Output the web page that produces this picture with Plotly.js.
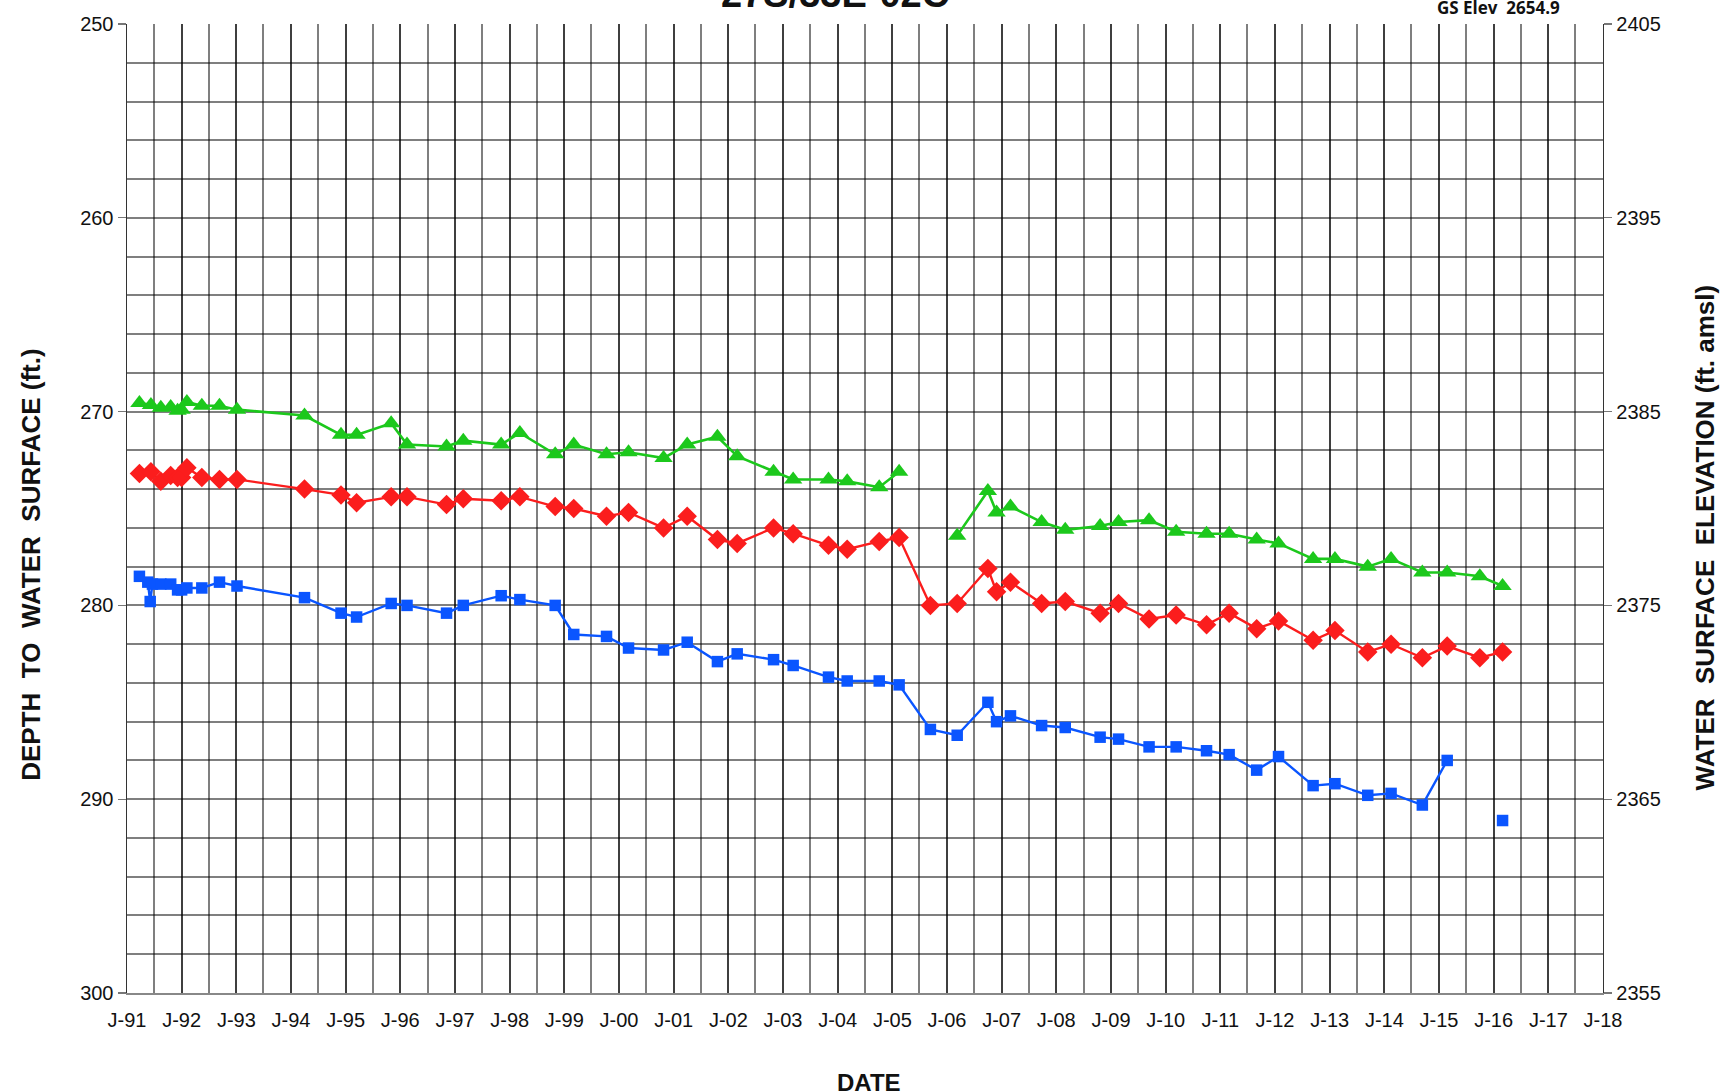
<!DOCTYPE html>
<html>
<head>
<meta charset="utf-8">
<script src="https://cdn.plot.ly/plotly-3.0.1.min.js"></script>
<style>
html,body{margin:0;padding:0;background:#fff;}
#chart{width:1722px;height:1091px;}
</style>
</head>
<body>
<div id="chart"></div>
<script>
// ---- Data (depth to water surface, ft) ----
const greenDates = ['1991-03-25','1991-06-10','1991-08-15','1991-10-20','1991-12-05','1992-01-01','1992-02-05','1992-05-15','1992-09-10','1993-01-05',
  '1994-04-01','1994-12-01','1995-03-15','1995-11-01','1996-02-15','1996-11-05','1997-02-25','1997-11-05','1998-03-10','1998-11-01',
  '1999-03-05','1999-10-10','2000-03-05','2000-10-25','2001-04-01','2001-10-20','2002-03-01','2002-10-30','2003-03-10','2003-11-01',
  '2004-03-05','2004-10-05','2005-02-15','2005-09-12','2006-03-10','2006-10-01','2006-11-28','2007-03-01','2007-09-25','2008-03-01',
  '2008-10-20','2009-02-20','2009-09-12','2010-03-12','2010-10-01','2011-03-01','2011-09-01','2012-01-25','2012-09-12','2013-02-05',
  '2013-09-12','2014-02-15','2014-09-12','2015-02-25','2015-10-01','2016-03-01'];
const greenDepth = [269.55,269.66,269.8,269.76,269.95,269.9,269.5,269.7,269.7,269.9,
  270.2,271.2,271.2,270.6,271.7,271.8,271.5,271.7,271.1,272.2,
  271.7,272.2,272.1,272.4,271.7,271.3,272.3,273.1,273.5,273.5,
  273.6,273.9,273.1,null,276.4,274.1,275.2,274.9,275.7,276.1,
  275.9,275.7,275.6,276.2,276.3,276.3,276.6,276.8,277.6,277.6,
  278.0,277.6,278.3,278.3,278.5,279.0];

const redDates = greenDates;
const redDepth = [273.2,273.1,273.6,273.3,273.4,273.4,272.9,273.4,273.5,273.5,
  274.0,274.3,274.7,274.4,274.4,274.8,274.5,274.6,274.4,274.9,
  275.0,275.4,275.2,276.0,275.4,276.6,276.8,276.0,276.3,276.9,
  277.1,276.7,276.5,280.0,279.9,278.1,279.3,278.8,279.9,279.8,
  280.4,279.9,280.7,280.5,281.0,280.4,281.2,280.8,281.8,281.3,
  282.4,282.0,282.7,282.1,282.7,282.4];

const blueDates = ['1991-03-25','1991-05-20','1991-06-05','1991-06-20','1991-08-15','1991-10-20','1991-12-05','1992-01-01','1992-02-05','1992-05-15','1992-09-10','1993-01-05',
  '1994-04-01','1994-12-01','1995-03-15','1995-11-01','1996-02-15','1996-11-05','1997-02-25','1997-11-05','1998-03-10','1998-11-01',
  '1999-03-05','1999-10-10','2000-03-05','2000-10-25','2001-04-01','2001-10-20','2002-03-01','2002-10-30','2003-03-10','2003-11-01',
  '2004-03-05','2004-10-05','2005-02-15','2005-09-12','2006-03-10','2006-10-01','2006-11-28','2007-03-01','2007-09-25','2008-03-01',
  '2008-10-20','2009-02-20','2009-09-12','2010-03-12','2010-10-01','2011-03-01','2011-09-01','2012-01-25','2012-09-12','2013-02-05',
  '2013-09-12','2014-02-15','2014-09-12','2015-02-25','2015-10-01','2016-03-01'];
const blueDepth = [278.5,278.8,279.8,278.9,278.9,278.9,279.2,279.2,279.1,279.1,278.8,279.0,
  279.6,280.4,280.6,279.9,280.0,280.4,280.0,279.5,279.7,280.0,
  281.5,281.6,282.2,282.3,281.9,282.9,282.5,282.8,283.1,283.7,
  283.9,283.9,284.1,286.4,286.7,285.0,286.0,285.7,286.2,286.3,
  286.8,286.9,287.3,287.3,287.5,287.7,288.5,287.8,289.3,289.2,
  289.8,289.7,290.3,288.0,null,291.1];

const tickYears = [1991,1992,1993,1994,1995,1996,1997,1998,1999,2000,2001,2002,2003,2004,2005,2006,2007,2008,2009,2010,2011,2012,2013,2014,2015,2016,2017,2018];
const tickLabels = ['J-91','J-92','J-93','J-94','J-95','J-96','J-97','J-98','J-99','J-00','J-01','J-02','J-03','J-04','J-05','J-06','J-07','J-08','J-09','J-10','J-11','J-12','J-13','J-14','J-15','J-16','J-17','J-18'];
const depthRange = [300, 250];
const elevRange = [2355, 2405];
const titleText = '27S/33E-02C';
const gsElevText = 'GS Elev  2654.9';

const FONT = 'Liberation Sans, Arial, sans-serif';
const GRID = 'rgba(0,0,0,0.5)';

const traces = [
  {x: greenDates, y: greenDepth, type: 'scatter', mode: 'lines+markers', connectgaps: false,
   line: {color: '#1cc81c', width: 2.6}, marker: {symbol: 'triangle-up', size: 16, color: '#1cc81c'}, hoverinfo: 'x+y'},
  {x: redDates, y: redDepth, type: 'scatter', mode: 'lines+markers', connectgaps: false,
   line: {color: '#fb1d1d', width: 2.4}, marker: {symbol: 'diamond', size: 15, color: '#fb1d1d'}, hoverinfo: 'x+y'},
  {x: blueDates, y: blueDepth, type: 'scatter', mode: 'lines+markers', connectgaps: false,
   line: {color: '#0a55ff', width: 2.4}, marker: {symbol: 'square', size: 11.5, color: '#0a55ff'}, hoverinfo: 'x+y'},
  {x: [tickYears[0] + '-01-01'], y: [elevRange[0]], yaxis: 'y2', type: 'scatter', mode: 'markers',
   marker: {opacity: 0}, showlegend: false, hoverinfo: 'skip'}
];

const layout = {
  width: 1722, height: 1091,
  margin: {l: 127, r: 119, t: 24, b: 98},
  paper_bgcolor: '#fff', plot_bgcolor: '#fff',
  showlegend: false,
  font: {family: FONT, color: '#111', size: 20},
  xaxis: {
    type: 'date',
    range: [tickYears[0] + '-01-01', tickYears[tickYears.length - 1] + '-01-01'],
    tickmode: 'array',
    tickvals: tickYears.map(y => y + '-01-01'),
    ticktext: tickLabels,
    ticks: '', ticklabelstandoff: 8,
    tickfont: {family: FONT, size: 20, color: '#111'},
    showgrid: true, gridcolor: GRID, gridwidth: 2,
    minor: {dtick: 'M6', tick0: '1991-01-01', showgrid: true, gridcolor: GRID, gridwidth: 2},
    showline: true, linecolor: '#888', linewidth: 1.5, mirror: false,
    zeroline: false, fixedrange: true
  },
  yaxis: {
    range: depthRange, dtick: 10, tick0: 250,
    ticks: 'outside', ticklen: 8, tickcolor: '#777', tickwidth: 1.2,
    tickfont: {family: FONT, size: 20, color: '#111'},
    showgrid: true, gridcolor: GRID, gridwidth: 2,
    minor: {dtick: 2, showgrid: true, gridcolor: GRID, gridwidth: 2},
    showline: true, linecolor: '#333', linewidth: 1.5,
    zeroline: false, fixedrange: true
  },
  yaxis2: {
    overlaying: 'y', side: 'right',
    range: elevRange, dtick: 10, tick0: 2355,
    ticks: 'outside', ticklen: 8, tickcolor: '#777', tickwidth: 1.2,
    tickfont: {family: FONT, size: 20, color: '#111'},
    showgrid: false, showline: true, linecolor: '#333', linewidth: 1.3,
    zeroline: false, fixedrange: true
  },
  annotations: [
    {text: 'DEPTH  TO  WATER  SURFACE (ft.)', xref: 'paper', yref: 'paper', x: -0.065, y: 0.442,
     xanchor: 'center', yanchor: 'middle', textangle: -90, showarrow: false,
     font: {family: FONT, size: 26, color: '#111', weight: 'bold'}},
    {text: 'WATER  SURFACE  ELEVATION (ft. amsl)', xref: 'paper', yref: 'paper', x: 1.069, y: 0.47,
     xanchor: 'center', yanchor: 'middle', textangle: -90, showarrow: false,
     font: {family: FONT, size: 26, color: '#111', weight: 'bold'}},
    {text: 'DATE', xref: 'paper', yref: 'paper', x: 0.5027, y: -0.092,
     xanchor: 'center', yanchor: 'middle', showarrow: false,
     font: {family: FONT, size: 24, color: '#111', weight: 'bold'}},
    {text: titleText, xref: 'paper', yref: 'paper', x: 0.4797, y: 1.031,
     xanchor: 'center', yanchor: 'middle', showarrow: false,
     font: {family: FONT, size: 38, color: '#111', weight: 'bold'}},
    {text: gsElevText, xref: 'paper', yref: 'paper', x: 0.9295, y: 1.0175,
     xanchor: 'center', yanchor: 'middle', showarrow: false,
     font: {family: 'Open Sans, sans-serif', size: 17, color: '#111', weight: 'bold'}}
  ]
};

Plotly.newPlot('chart', traces, layout, {displayModeBar: false, staticPlot: true});
</script>
</body>
</html>
